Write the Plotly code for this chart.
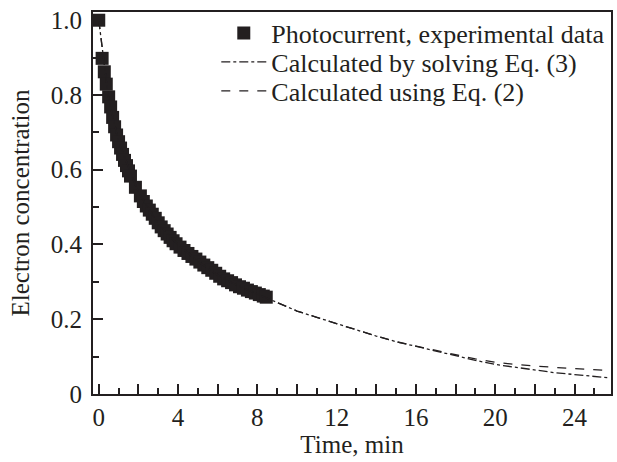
import plotly.graph_objects as go

# Experimental photocurrent data (time in min, normalized electron concentration)
exp_t = [0, 0.17, 0.28, 0.38, 0.5, 0.6, 0.7, 0.8, 0.9, 1.0, 1.1, 1.2, 1.3, 1.4, 1.5, 1.6,
         1.85, 2.1, 2.25, 2.4, 2.55, 2.7, 2.85, 3.0, 3.15, 3.3, 3.45, 3.6, 3.75, 3.9,
         4.1, 4.3, 4.5, 4.7, 4.9, 5.1, 5.3, 5.5, 5.7, 5.9, 6.1, 6.3, 6.5, 6.7, 6.9,
         7.1, 7.3, 7.5, 7.7, 7.9, 8.1, 8.3, 8.45]
exp_n = [1.0, 0.898, 0.862, 0.829, 0.795, 0.768, 0.740, 0.715, 0.693, 0.675, 0.658, 0.641,
         0.625, 0.611, 0.597, 0.583, 0.553, 0.530, 0.515, 0.503, 0.492, 0.481, 0.470,
         0.458, 0.447, 0.437, 0.428, 0.419, 0.410, 0.402, 0.393, 0.384, 0.376, 0.368,
         0.361, 0.353, 0.345, 0.338, 0.331, 0.323, 0.315, 0.308, 0.303, 0.298, 0.292,
         0.287, 0.283, 0.278, 0.274, 0.270, 0.266, 0.262, 0.259]

# Calculated curves
calc_t = [0, 0.5, 1, 2, 3, 4, 5, 6, 7, 8, 9, 10, 11, 12, 13, 14, 15, 16, 17, 18, 19,
          20, 21, 22, 23, 24, 25, 25.8]
eq3_n = [1.0, 0.79, 0.675, 0.54, 0.455, 0.40, 0.355, 0.318, 0.29, 0.268, 0.245, 0.222,
         0.205, 0.188, 0.172, 0.155, 0.140, 0.127, 0.114, 0.102, 0.090, 0.079, 0.071,
         0.064, 0.057, 0.052, 0.047, 0.043]
eq2_n = [1.0, 0.79, 0.675, 0.54, 0.455, 0.40, 0.355, 0.318, 0.29, 0.268, 0.245, 0.222,
         0.205, 0.188, 0.172, 0.155, 0.140, 0.128, 0.116, 0.105, 0.094, 0.085, 0.079,
         0.074, 0.071, 0.068, 0.065, 0.063]

x_tickvals = list(range(0, 26, 2))
x_ticktext = [str(v) if v % 4 == 0 else "" for v in x_tickvals]
y_tickvals = [0, 0.2, 0.4, 0.6, 0.8, 1.0]
y_ticktext = ["0", "0.2", "0.4", "0.6", "0.8", "1.0"]

ink = "#231f20"
font = dict(family="Liberation Serif", size=25, color=ink)
legend_font = dict(family="Liberation Serif", size=26, color=ink)

fig = go.Figure()
fig.add_trace(go.Scatter(x=exp_t, y=exp_n, mode="markers", name="Photocurrent, experimental data",
                         marker=dict(symbol="square", size=13, color=ink, line=dict(width=0)),
                         legend="legend"))
fig.add_trace(go.Scatter(x=calc_t, y=eq3_n, mode="lines", name="Calculated by solving Eq. (3)",
                         line=dict(color=ink, width=1.3, dash="dashdot"), legend="legend2"))
fig.add_trace(go.Scatter(x=calc_t, y=eq2_n, mode="lines", name="Calculated using Eq. (2)",
                         line=dict(color=ink, width=1.3, dash="dash"), legend="legend3"))

leg_common = dict(x=0.238, xanchor="left", yanchor="middle", bgcolor="rgba(0,0,0,0)",
                  font=legend_font, itemwidth=45)

fig.update_layout(
    width=617, height=462,
    margin=dict(l=93, r=4, t=12, b=68),
    paper_bgcolor="white", plot_bgcolor="white",
    font=font,
    showlegend=True,
    legend=dict(y=0.945, **leg_common),
    legend2=dict(y=0.869, **leg_common),
    legend3=dict(y=0.793, **leg_common),
)
fig.update_xaxes(
    range=[-0.29, 25.84], showgrid=False, zeroline=False,
    showline=True, linecolor=ink, linewidth=2, mirror=True,
    ticks="inside", ticklen=10, tickwidth=1.5, tickcolor=ink,
    tickvals=x_tickvals, ticktext=x_ticktext,
    minor=dict(dtick=1, tick0=0, ticks="inside", ticklen=6, tickwidth=1.5, tickcolor=ink),
    title=dict(text="Time, min", font=font, standoff=4),
)
fig.update_yaxes(
    range=[0, 1.022], showgrid=False, zeroline=False,
    showline=True, linecolor=ink, linewidth=2, mirror=True,
    ticks="inside", ticklen=10, tickwidth=1.5, tickcolor=ink,
    tickvals=y_tickvals, ticktext=y_ticktext,
    ticklabelstandoff=4,
    minor=dict(dtick=0.1, tick0=0, ticks="inside", ticklen=6, tickwidth=1.5, tickcolor=ink),
    title=dict(text="Electron concentration", font=font, standoff=14),
)

fig.write_html("out.html")
